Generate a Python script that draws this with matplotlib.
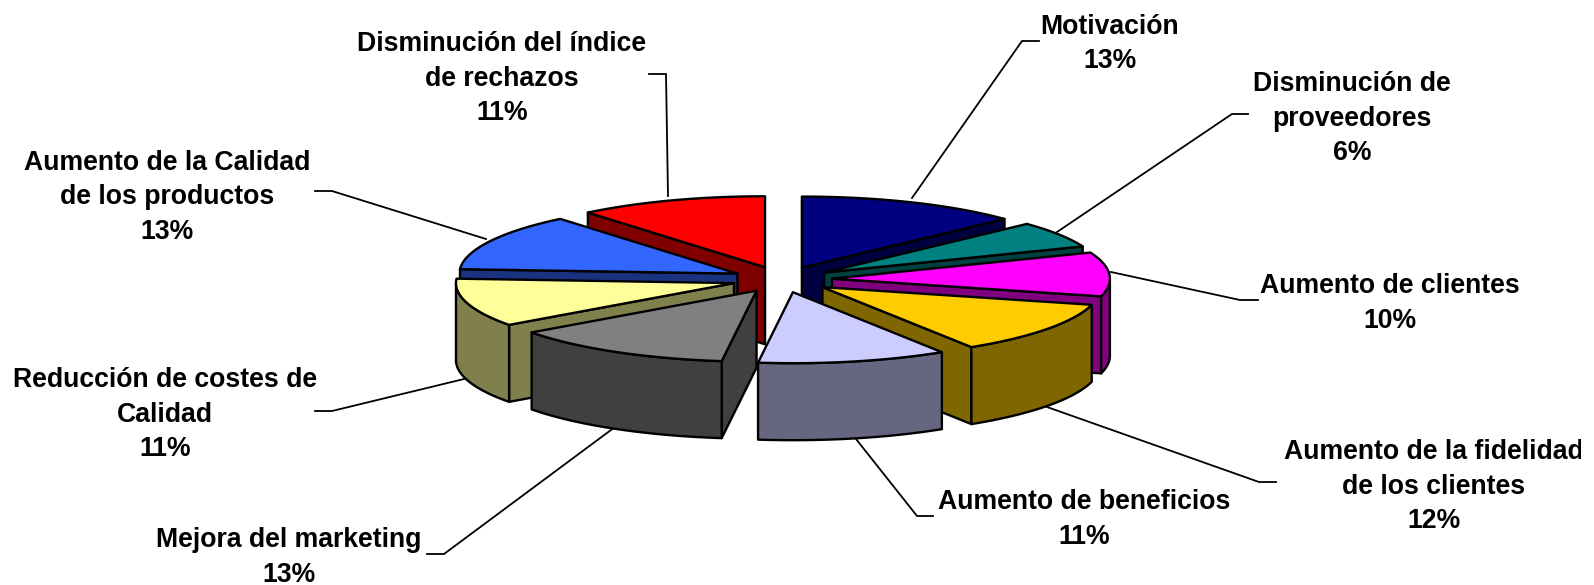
import numpy as np
import matplotlib
matplotlib.use("Agg")
import matplotlib.pyplot as plt
from matplotlib.patches import Polygon, Rectangle

labels = ["Motivación", "Disminución de\nproveedores", "Aumento de clientes",
          "Aumento de la fidelidad\nde los clientes", "Aumento de beneficios",
          "Mejora del marketing", "Reducción de costes de\nCalidad",
          "Aumento de la Calidad\nde los productos", "Disminución del índice\nde rechazos"]
values = [13, 6, 10, 12, 11, 13, 11, 13, 11]
top_colors = ["#000080", "#008080", "#FF00FF", "#FFCC00", "#CCCCFF",
              "#808080", "#FFFF99", "#3366FF", "#FF0000"]
wall_colors = ["#000040", "#004040", "#800080", "#806600", "#666680",
               "#404040", "#80804C", "#1A3380", "#800000"]
label_pos = [(1110, 44), (1352, 118.5), (1390, 303.5), (1434, 486.5), (1084, 519.5),
             (289, 557.5), (165, 414.5), (167, 197.5), (502, 78.5)]
# leader lines, in pixels
leaders = [[(1039, 41), (1022, 41), (912, 198)],
           [(1248, 114), (1232, 114), (1057, 232)],
           [(1258, 300), (1240, 300), (1111, 272)],
           [(1276, 482), (1259, 482), (1047, 407)],
           [(933, 516), (917, 516), (856, 439)],
           [(427, 554), (444, 554), (615, 427)],
           [(315, 411), (332, 411), (464, 379)],
           [(315, 191), (332, 191), (486, 239)],
           [(649, 74), (666, 74), (668, 196)]]
# back slices first
draw_order = [8, 0, 7, 1, 6, 2, 3, 5, 4]

cx, cy = 782, 279.5
rx, ry = 278, 71
ex, ey = 50, 13
depth = 77

fig = plt.figure(figsize=(15.94, 5.85), dpi=100)
ax = fig.add_axes([0, 0, 1, 1])
ax.set_xlim(0, 1594)
ax.set_ylim(585, 0)
ax.axis("off")

for line in leaders:
    xs, ys = zip(*line)
    ax.plot(xs, ys, color="black", lw=1.3, zorder=1, solid_joinstyle="miter")

edges = np.cumsum([0] + values) / sum(values) * 2 * np.pi


def add_poly(pts, color):
    ax.add_patch(Polygon(pts, closed=True, facecolor=color, edgecolor="black",
                         lw=1.7, joinstyle="round", zorder=2))


for i in draw_order:
    a, b = edges[i], edges[i + 1]
    mid = (a + b) / 2
    ax0 = cx + ex * np.sin(mid)
    ay0 = cy - ey * np.cos(mid)
    t = np.linspace(a, b, 60)
    rim = np.column_stack([ax0 + rx * np.sin(t), ay0 - ry * np.cos(t)])
    apex = np.array([ax0, ay0])
    down = np.array([0, depth])

    # side walls that face the viewer
    if np.sin(a) < 0:
        add_poly([apex, rim[0], rim[0] + down, apex + down], wall_colors[i])
    if np.sin(b) > 0:
        add_poly([apex, rim[-1], rim[-1] + down, apex + down], wall_colors[i])
    # outer wall, front half of the rim only
    front = np.cos(t) < 0
    if front.any():
        r = rim[front]
        add_poly(np.vstack([r, (r + down)[::-1]]), wall_colors[i])
    add_poly(np.vstack([apex, rim]), top_colors[i])

# the original cuts the long label at its right edge
clip = Rectangle((0, 0), 1581, 585, transform=ax.transData)
for name, v, (x, y) in zip(labels, values, label_pos):
    txt = ax.text(x, y, f"{name}\n{v}%", ha="center", va="center", ma="center",
                  family="Liberation Sans", weight="bold", fontsize=19.2,
                  linespacing=1.41, color="black", zorder=3, clip_on=True)
    txt.set_clip_path(clip)

fig.savefig("out.png", dpi=100)
